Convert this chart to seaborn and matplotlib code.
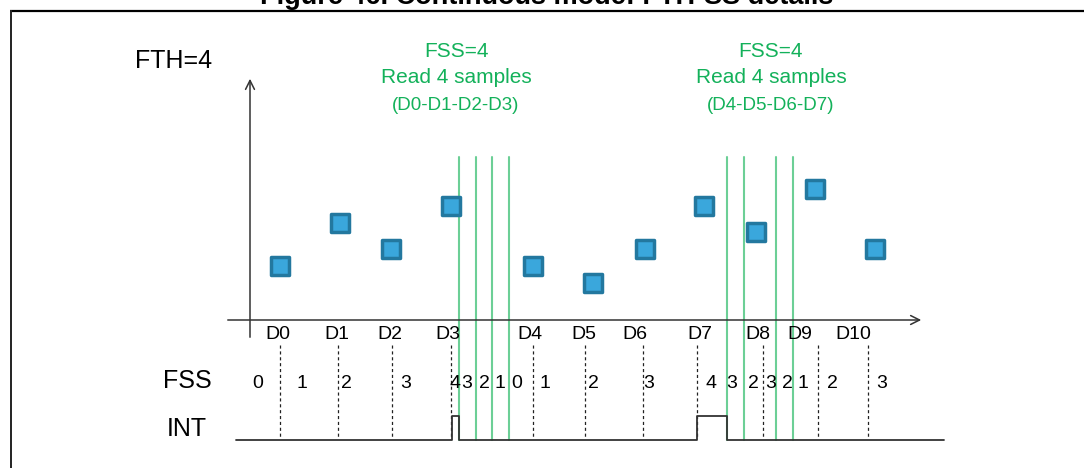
import numpy as np
import pandas as pd
import matplotlib
matplotlib.use('Agg')
import matplotlib.pyplot as plt
import seaborn as sns

# Samples D0..D10: time position (px along the time axis) and height above the axis
sample_labels = ['D0', 'D1', 'D2', 'D3', 'D4', 'D5', 'D6', 'D7', 'D8', 'D9', 'D10']
sample_t = [280, 340, 391, 451, 533, 593, 645, 704, 756, 815, 875]
sample_val = [54, 97, 71, 114, 54, 37, 71, 114, 88, 131, 71]
# sample instants (dashed markers under the time axis)
sample_tick_t = [280, 338, 392, 451, 533, 585, 643, 697, 763, 818, 868]
label_t = [278, 337, 390, 448, 530, 584, 635, 700, 758, 800, 853]

# FIFO stored samples counter (FSS) as it evolves in time
fss_vals = [0, 1, 2, 3, 4, 3, 2, 1, 0, 1, 2, 3, 4, 3, 2, 3, 2, 1, 2, 3]
fss_t = [258, 302, 346, 406, 455, 467, 484, 500, 517, 545, 593, 649, 711, 732, 753, 771, 787, 803, 832, 882]

# read events (green lines)
read_t = [459, 476, 492, 509, 727, 744, 776, 793]

# INT signal
int_t = [236, 452, 452, 459, 459, 697, 697, 727, 727, 944]
int_level = [0, 0, 1, 1, 0, 0, 1, 1, 0, 0]

read_notes = [('FSS=4', 'Read 4 samples', '(D0-D1-D2-D3)'),
              ('FSS=4', 'Read 4 samples', '(D4-D5-D6-D7)')]
note_t = [456, 771]

sns.set_theme(style='white')
plt.rcParams['font.family'] = ['Liberation Sans', 'DejaVu Sans']

GREEN_TXT = '#13b15a'
GREEN_LN = '#6ccf96'
AXIS_Y = 320
INT_LOW, INT_HIGH = 440, 416

fig = plt.figure(figsize=(10.84, 4.68), dpi=100)
ax = fig.add_axes([0, 0, 1, 1])
ax.set_xlim(0, 1084)
ax.set_ylim(468, 0)
ax.axis('off')

# title (cut off by the top edge, as in the source page) and frame
ax.text(547, 4, 'Figure 46. Continuous mode: FTH-SS details', ha='center', va='baseline',
        fontsize=19.5, fontweight='bold', color='black')
ax.plot([10, 1084], [10.5, 10.5], color='black', lw=1.6, solid_capstyle='butt')
ax.plot([10.5, 10.5], [10, 468], color='#222222', lw=1.4, solid_capstyle='butt')

# axes with arrows
ax.annotate('', xy=(924, AXIS_Y), xytext=(225, AXIS_Y),
            arrowprops=dict(arrowstyle='->', color='#333333', lw=1.1, mutation_scale=16))
ax.annotate('', xy=(250, 76), xytext=(250, 340),
            arrowprops=dict(arrowstyle='->', color='#333333', lw=1.1, mutation_scale=16))

ax.text(135, 68, 'FTH=4', ha='left', va='baseline', fontsize=18, color='black')

# read events
for t in read_t:
    ax.plot([t, t], [157, 440], color=GREEN_LN, lw=1.5)

# dashed sample instants
for t in sample_tick_t:
    ax.plot([t, t], [345, 437], color='#222222', lw=0.9, linestyle=(0, (2.5, 2.2)))

# samples
df = pd.DataFrame({'t': sample_t, 'y': [AXIS_Y - v for v in sample_val], 'label': sample_labels})
sns.scatterplot(data=df, x='t', y='y', marker='s', s=150, color='#3aa7dc',
                edgecolor='#23789f', linewidth=2.5, ax=ax, zorder=5)
for coll in ax.collections:
    coll.set_joinstyle('round')

for lab, t in zip(sample_labels, label_t):
    ax.text(t, 339, lab, ha='center', va='baseline', fontsize=14, color='black')

# FSS row
ax.text(187, 388, 'FSS', ha='center', va='baseline', fontsize=18, color='black')
for v, t in zip(fss_vals, fss_t):
    ax.text(t, 388, str(v), ha='center', va='baseline', fontsize=14, color='black')

# INT row
ax.text(187, 436, 'INT', ha='center', va='baseline', fontsize=18, color='black')
int_df = pd.DataFrame({'t': int_t, 'y': [INT_LOW - (INT_LOW - INT_HIGH) * l for l in int_level]})
sns.lineplot(data=int_df, x='t', y='y', sort=False, estimator=None, color='#333333', lw=1.3, ax=ax)

# annotations for reads
for (l1, l2, l3), t in zip(read_notes, note_t):
    ax.text(t, 57, l1, ha='center', va='baseline', fontsize=15, color=GREEN_TXT)
    ax.text(t, 83, l2, ha='center', va='baseline', fontsize=15, color=GREEN_TXT)
    ax.text(t, 110, l3, ha='center', va='baseline', fontsize=13.5, color=GREEN_TXT)

ax.set_xlim(0, 1084)
ax.set_ylim(468, 0)
fig.savefig('out.png', dpi=100)
